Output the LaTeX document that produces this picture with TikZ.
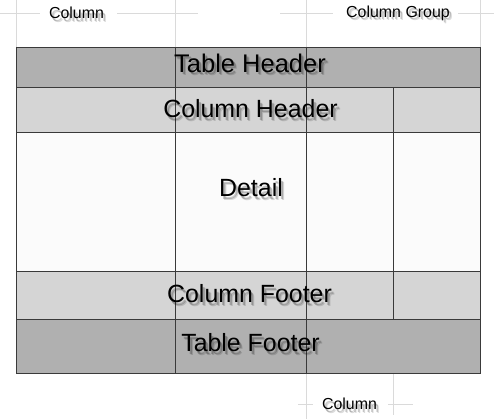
\documentclass[tikz,border=0pt]{standalone}
\usepackage{fontspec}
\setmainfont{Liberation Sans}
\usetikzlibrary{calc}
\definecolor{darkband}{HTML}{B0B0B0}
\definecolor{lightband}{HTML}{D5D5D5}
\definecolor{detailbg}{HTML}{FBFBFB}
\definecolor{gridline}{HTML}{3A3A3A}
\definecolor{guideline}{HTML}{DADADA}
\tikzset{
  band/.style={draw=gridline, line width=1bp},
  cellline/.style={draw=gridline, line width=1bp},
  guide/.style={draw=guideline, line width=0.8bp},
  bigtext/.style={font=\fontsize{25}{28}\selectfont, inner sep=0pt, anchor=center, text=black},
  hugetext/.style={font=\fontsize{25.6}{29}\selectfont, inner sep=0pt, anchor=center, text=black},
  smalltext/.style={font=\fontsize{16}{18}\selectfont, inner sep=0pt, anchor=center, text=black},
  shadowtext/.style={text=black, opacity=0.2},
}
\newcommand\shadowlabel[4]{%
  \node[#3, shadowtext] (#1-s1) at ($(#2)+(2,2.4)$) {#4};
  \node[#3, shadowtext, opacity=0.14] (#1-s2) at ($(#2)+(3,3.4)$) {#4};
  \node[#3] (#1) at (#2) {#4};
}
\begin{document}
\begin{tikzpicture}[x=1bp, y=-1bp]
\useasboundingbox (0,0) rectangle (494,419);
% guide lines
\draw[guide] (0,13) -- (40,13);
\draw[guide] (117,13) -- (198,13);
\draw[guide] (280,13) -- (333,13);
\draw[guide] (458,13) -- (494,13);
\draw[guide] (16,0) -- (16,47);
\draw[guide] (175,0) -- (175,47);
\draw[guide] (306,0) -- (306,47);
\draw[guide] (480,0) -- (480,47);
\draw[guide] (306,373) -- (306,419);
\draw[guide] (393,373) -- (393,415);
\draw[guide] (298,404) -- (313,404);
\draw[guide] (388,404) -- (413,404);
% bands
\fill[darkband] (16,47) rectangle (480,87);
\fill[lightband] (16,87) rectangle (480,132);
\fill[detailbg] (16,132) rectangle (480,271);
\fill[lightband] (16,271) rectangle (480,319);
\fill[darkband] (16,319) rectangle (480,373);
\draw[band] (16,47) rectangle (480,373);
\draw[band] (16,87) -- (480,87);
\draw[band] (16,132) -- (480,132);
\draw[band] (16,271) -- (480,271);
\draw[band] (16,319) -- (480,319);
\draw[cellline] (175,47) -- (175,373);
\draw[cellline] (306,47) -- (306,373);
\draw[cellline] (393,87) -- (393,319);
% labels
\shadowlabel{tablehead}{250,63}{hugetext}{Table Header}
\shadowlabel{colhead}{250.5,108.7}{bigtext}{Column Header}
\shadowlabel{detail}{251,188}{bigtext}{Detail}
\shadowlabel{colfoot}{249.5,294}{bigtext}{Column Footer}
\shadowlabel{tablefoot}{250.5,343}{bigtext}{Table Footer}
\shadowlabel{colA}{76.5,13}{smalltext}{Column}
\shadowlabel{colgroup}{398,13}{smalltext}{Column Group}
\shadowlabel{colB}{349.5,404}{smalltext}{Column}
\end{tikzpicture}
\end{document}
